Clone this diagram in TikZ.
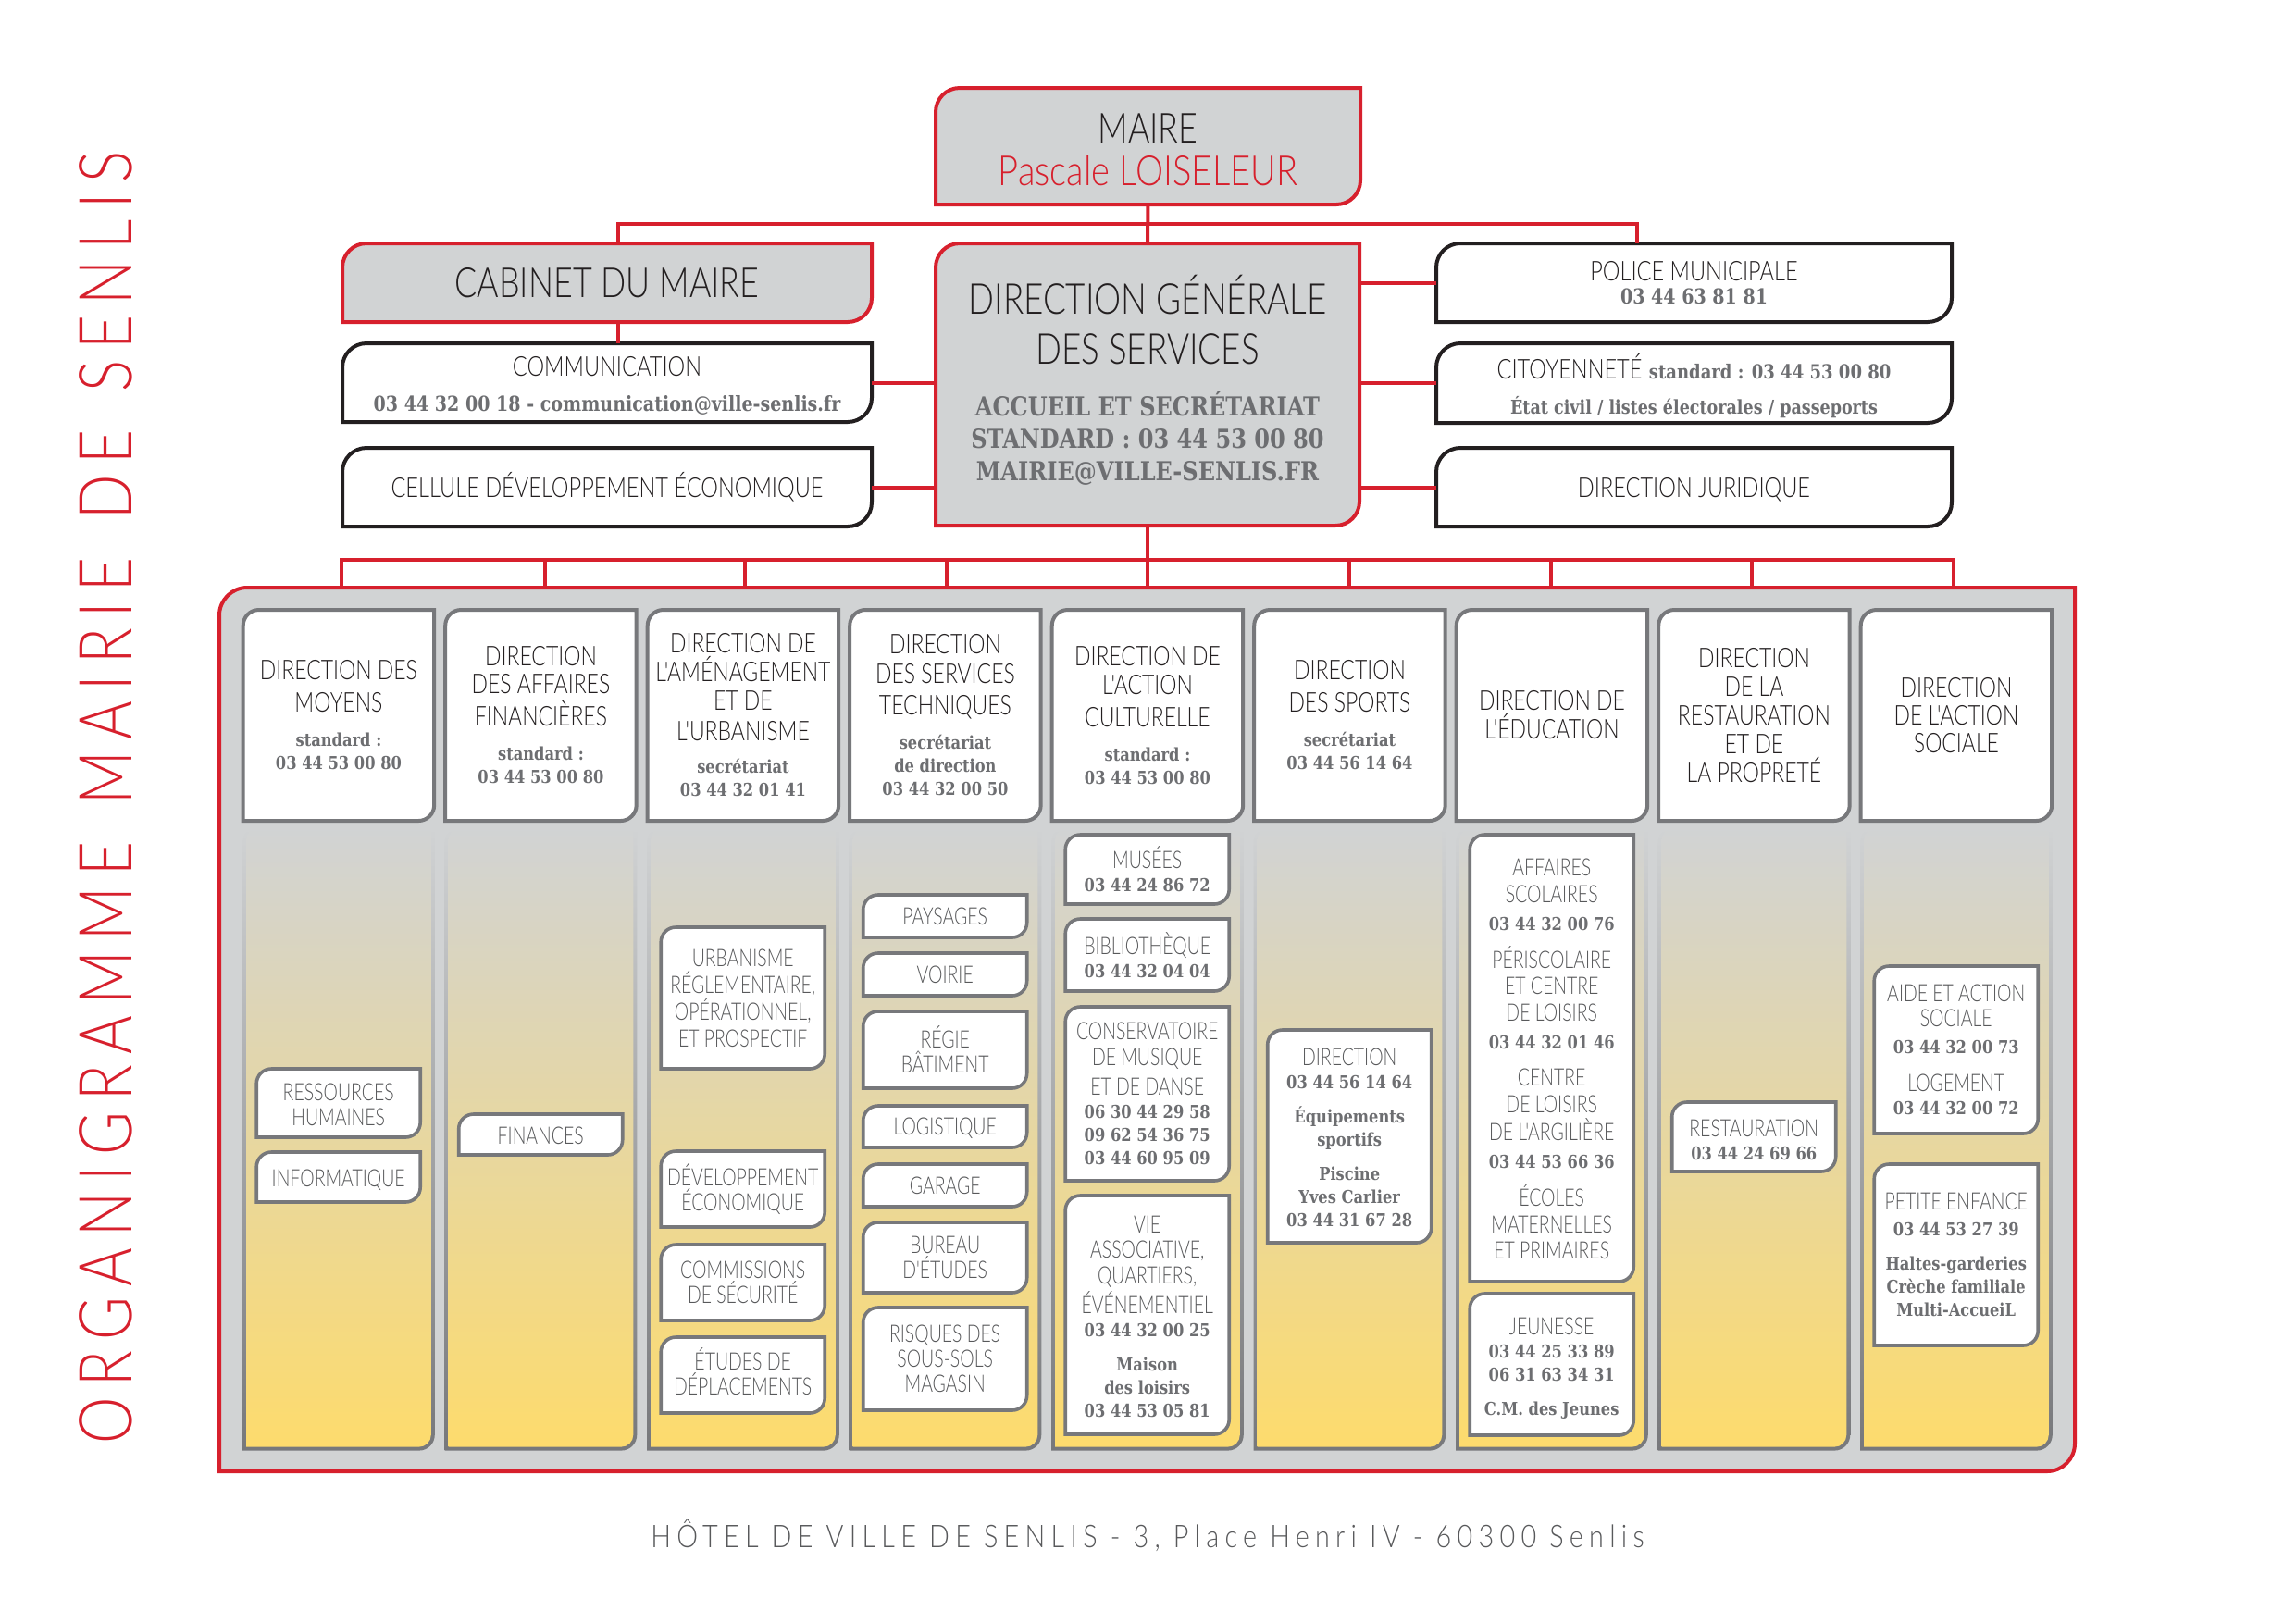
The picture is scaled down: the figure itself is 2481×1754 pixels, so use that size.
\documentclass[tikz,border=0pt]{standalone}
\usepackage{fontspec}
\newfontfamily\thin{Lato Light}[FakeStretch=0.8]
\newfontfamily\thinb{Lato Light}[FakeStretch=0.78]
\newfontfamily\thinc{Lato Light}[FakeStretch=0.75]
\newfontfamily\thinp{Lato Light}[FakeStretch=0.85]
\newfontfamily\titref{Lato Light}[FakeStretch=0.8,LetterSpace=14.8,WordSpace=1.4]
\newfontfamily\piedf{Lato Light}[FakeStretch=0.85,LetterSpace=18.5]
\newfontfamily\slab{DejaVu Serif Bold}[FakeStretch=0.85]
\definecolor{rouge}{HTML}{D7202D}
\definecolor{noir}{HTML}{231F20}
\definecolor{gris}{HTML}{D1D3D4}
\definecolor{grisb}{HTML}{77787B}
\definecolor{grist}{HTML}{6D6E71}
\definecolor{grisl}{HTML}{58595B}
\definecolor{jaune}{HTML}{FDDB6D}
\newdimen\px \px=0.3394pt
\newdimen\cxa \newdimen\cxb \newdimen\cya \newdimen\cyb \newdimen\crr
\makeatletter
\pgfdeclareshape{coinbox}{
  \inheritsavedanchors[from=rectangle]
  \inheritanchorborder[from=rectangle]
  \inheritanchor[from=rectangle]{center}
  \inheritanchor[from=rectangle]{mid}
  \inheritanchor[from=rectangle]{base}
  \inheritanchor[from=rectangle]{north}
  \inheritanchor[from=rectangle]{south}
  \inheritanchor[from=rectangle]{east}
  \inheritanchor[from=rectangle]{west}
  \inheritanchor[from=rectangle]{north east}
  \inheritanchor[from=rectangle]{north west}
  \inheritanchor[from=rectangle]{south east}
  \inheritanchor[from=rectangle]{south west}
  \backgroundpath{
    \southwest \cxa=\pgf@x \cya=\pgf@y
    \northeast \cxb=\pgf@x \cyb=\pgf@y
    \crr=\coinr\px
    \pgfpathmoveto{\pgfqpoint{\cxa}{\cya}}
    \pgfpathlineto{\pgfqpoint{\cxa}{\dimexpr\cyb-\crr\relax}}
    \pgfpatharc{180}{90}{\crr}
    \pgfpathlineto{\pgfqpoint{\cxb}{\cyb}}
    \pgfpathlineto{\pgfqpoint{\cxb}{\dimexpr\cya+\crr\relax}}
    \pgfpatharc{0}{-90}{\crr}
    \pgfpathclose
  }
}
\makeatother
\def\coinr{16}
\newcommand\lhset[1]{\fontsize{6}{6}\selectfont\baselineskip=#1\px\relax\lineskiplimit=-100pt\relax}
\newcommand\haut[1]{\rule{0pt}{#1\px}}
\newcommand\basse[1]{\rule[-#1\px]{0pt}{0pt}}
\newcommand\tA[1]{{\thin\fontsize{15.2}{14}\selectfont #1}}
\newcommand\tAg[1]{{\thin\fontsize{15.6}{14}\selectfont #1}}
\newcommand\tAp[1]{{\thinp\fontsize{15.2}{14}\selectfont #1}}
\newcommand\tB[1]{{\thinb\fontsize{10}{10}\selectfont #1}}
\newcommand\tC[1]{{\thinc\color{grisl}\fontsize{8.8}{9}\selectfont #1}}
\newcommand\tD[1]{{\thin\fontsize{10}{10}\selectfont #1}}
\newcommand\nA[1]{{\slab\color{grist}\fontsize{6.5}{7}\selectfont #1}}
\newcommand\nB[1]{{\slab\color{grist}\fontsize{9.6}{10}\selectfont #1}}
\newcommand\nC[1]{{\slab\color{grist}\fontsize{7}{7}\selectfont #1}}
\newcommand\nD[1]{{\slab\color{grist}\fontsize{7.6}{7}\selectfont #1}}
\newcommand\nE[1]{{\slab\color{grist}\fontsize{7.2}{7}\selectfont #1}}
\tikzset{
  x=0.3394pt,y=-0.3394pt,
  lh/.style={font=\lhset{#1}},
  rc/.code={\def\coinr{#1}},
  basebox/.style={shape=coinbox,inner sep=0pt,outer sep=0pt,align=center,line width=4\px,text=noir,lh=25},
  rougebox/.style={basebox,draw=rouge,fill=gris,rc=26},
  noirbox/.style={basebox,draw=noir,fill=white,rc=26},
  tetebox/.style={basebox,draw=grisb,fill=white,rc=17},
  sousbox/.style={basebox,draw=grisb,fill=white,rc=16,line width=3.6\px},
  cadre/.style={basebox,draw=rouge,fill=gris,rc=30},
  liaison/.style={draw=rouge,line width=4\px},
}
\newcommand\boite[7][]{%
  \pgfmathsetmacro\bcx{(#3+#5)/2}\pgfmathsetmacro\bcy{(#4+#6)/2}%
  \pgfmathsetmacro\bw{#5-#3}\pgfmathsetmacro\bh{#6-#4}%
  \node[minimum width=\bw\px,minimum height=\bh\px,#1] (#2) at (\bcx,\bcy) {#7};}
\newcommand\tete[3]{%
  \pgfmathsetmacro\ca{262.7+218.5*(#2-1)}\pgfmathsetmacro\cb{\ca+206.5}%
  \boite[tetebox]{#1}{\ca}{659}{\cb}{887}{#3}}
\newcommand\fond[1]{%
  \pgfmathsetmacro\ca{262.7+218.5*(#1-1)}\pgfmathsetmacro\cb{\ca+206.5}%
  \pgfmathsetmacro\cc{\ca+4}\pgfmathsetmacro\cd{\cb-4}%
  \boite[shape=coinbox,rc=17,inner sep=0pt,top color=gris,bottom color=grisb]{fondext#1}{\ca}{895}{\cb}{1567}{}
  \boite[shape=coinbox,rc=13,inner sep=0pt,top color=gris,bottom color=jaune]{fondint#1}{\cc}{895}{\cd}{1563}{}}
\newcommand\sous[6][]{%
  \pgfmathsetmacro\ca{277.2+218.5*(#3-1)}\pgfmathsetmacro\cb{\ca+177}%
  \boite[sousbox,#1]{#2}{\ca}{#4}{\cb}{#5}{#6}}
\begin{document}
\begin{tikzpicture}
\useasboundingbox (0,0) rectangle (2481,1754);
% titre et pied
\node[rotate=90,text=rouge,inner sep=0pt] (titre) at (114,862) {\titref\fontsize{27}{27}\selectfont ORGANIGRAMME MAIRIE DE SENLIS};
\node[text=grisl,inner sep=0pt] (pied) at (1240,1659) {\piedf\fontsize{11.5}{12}\selectfont HÔTEL DE VILLE DE SENLIS - 3, Place Henri IV - 60300 Senlis};
% cadre
\boite[cadre]{cadre}{237}{635}{2242}{1590}{}
\foreach \i in {1,...,9}{\fond{\i}}
% tetes de colonnes
\tete{t1}{1}{\tB{DIRECTION DES}\\[10\px]\tB{MOYENS}\\[12\px]\nA{standard :}\\\nA{03 44 53 00 80}}
\tete{t2}{2}{\tB{DIRECTION}\\[5\px]\tB{DES AFFAIRES}\\[10\px]\tB{FINANCIÈRES}\\[12\px]\nA{standard :}\\\nA{03 44 53 00 80}}
\tete{t3}{3}{\tB{DIRECTION DE}\\[6\px]\tB{L'AMÉNAGEMENT}\\[6\px]\tB{ET DE}\\[8\px]\tB{L'URBANISME}\\[10\px]\nA{secrétariat}\\\nA{03 44 32 01 41}}
\tete{t4}{4}{\tB{DIRECTION}\\[7\px]\tB{DES SERVICES}\\[9\px]\tB{TECHNIQUES}\\[12\px]\nA{secrétariat}\\\nA{de direction}\\\nA{03 44 32 00 50}}
\tete{t5}{5}{\tB{DIRECTION DE}\\[6\px]\tB{L'ACTION}\\[10\px]\tB{CULTURELLE}\\[12\px]\nA{standard :}\\\nA{03 44 53 00 80}}
\tete{t6}{6}{\tB{DIRECTION}\\[10\px]\tB{DES SPORTS}\\[12\px]\nA{secrétariat}\\\nA{03 44 56 14 64}}
\tete{t7}{7}{\tB{DIRECTION DE}\\[6\px]\tB{L'ÉDUCATION}}
\tete{t8}{8}{\tB{DIRECTION}\\[6\px]\tB{DE LA}\\[6\px]\tB{RESTAURATION}\\[6\px]\tB{ET DE}\\[6\px]\tB{LA PROPRETÉ}}
\tete{t9}{9}{\tB{DIRECTION}\\[5\px]\tB{DE L'ACTION}\\[5\px]\tB{SOCIALE}}
% sous-boites
\sous{c1a}{1}{1155}{1229}{\haut{22}\tC{RESSOURCES}\\[2\px]\tC{HUMAINES}}
\sous{c1b}{1}{1245}{1299}{\haut{24}\tC{INFORMATIQUE}}
\sous{c2a}{2}{1204}{1248}{\haut{22}\tC{FINANCES}}
\sous{c3a}{3}{1002}{1155}{\tC{URBANISME}\\[4\px]\tC{RÉGLEMENTAIRE,}\\[4\px]\tC{OPÉRATIONNEL,}\\[4\px]\tC{ET PROSPECTIF}}
\sous{c3b}{3}{1244}{1326}{\tC{DÉVELOPPEMENT}\\[2\px]\tC{ÉCONOMIQUE}}
\sous{c3c}{3}{1345}{1427}{\tC{COMMISSIONS}\\[2\px]\tC{DE SÉCURITÉ}}
\sous{c3d}{3}{1445}{1527}{\tC{ÉTUDES DE}\\[2\px]\tC{DÉPLACEMENTS}\basse{8}}
\sous{c4a}{4}{967}{1013}{\tC{PAYSAGES}}
\sous{c4b}{4}{1030}{1076}{\tC{VOIRIE}}
\sous{c4c}{4}{1093}{1176}{\tC{RÉGIE}\\[2\px]\tC{BÂTIMENT}}
\sous{c4d}{4}{1195}{1240}{\haut{22}\tC{LOGISTIQUE}}
\sous{c4e}{4}{1258}{1304}{\tC{GARAGE}}
\sous{c4f}{4}{1321}{1397}{\tC{BUREAU}\\[2\px]\tC{D'ÉTUDES}}
\sous{c4g}{4}{1413}{1524}{\tC{RISQUES DES}\\[2\px]\tC{SOUS-SOLS}\\[2\px]\tC{MAGASIN}}
\sous{c5a}{5}{902}{977}{\tC{MUSÉES}\\\nA{03 44 24 86 72}}
\sous{c5b}{5}{993}{1071}{\tC{BIBLIOTHÈQUE}\\\nA{03 44 32 04 04}}
\sous{c5c}{5}{1088}{1276}{\tC{CONSERVATOIRE}\\[2.5\px]\tC{DE MUSIQUE}\\[7\px]\tC{ET DE DANSE}\\\nA{06 30 44 29 58}\\\nA{09 62 54 36 75}\\\nA{03 44 60 95 09}}
\sous{c5d}{5}{1292}{1550}{\haut{22}\tC{VIE}\\[2.5\px]\tC{ASSOCIATIVE,}\\[2.5\px]\tC{QUARTIERS,}\\[7\px]\tC{ÉVÉNEMENTIEL}\\\nA{03 44 32 00 25}\\[12\px]\nA{Maison}\\\nA{des loisirs}\\\nA{03 44 53 05 81}}
\sous{c6a}{6}{1113}{1343}{\haut{22}\tC{DIRECTION}\\\nA{03 44 56 14 64}\\[12\px]\nA{Équipements}\\\nA{sportifs}\\[12\px]\nA{Piscine}\\\nA{Yves Carlier}\\\nA{03 44 31 67 28}}
\sous{c7a}{7}{902}{1385}{\haut{21}\tC{AFFAIRES}\\[3.5\px]\tC{SCOLAIRES}\\[5\px]\nA{03 44 32 00 76}\\[16\px]\tC{PÉRISCOLAIRE}\\[3.5\px]\tC{ET CENTRE}\\[4\px]\tC{DE LOISIRS}\\[5\px]\nA{03 44 32 01 46}\\[15\px]\tC{CENTRE}\\[3.5\px]\tC{DE LOISIRS}\\[5\px]\tC{DE L'ARGILIÈRE}\\[5\px]\nA{03 44 53 66 36}\\[16\px]\tC{ÉCOLES}\\[4\px]\tC{MATERNELLES}\\[3.5\px]\tC{ET PRIMAIRES}}
\sous{c7b}{7}{1398}{1551}{\haut{26}\tC{JEUNESSE}\\\nA{03 44 25 33 89}\\\nA{06 31 63 34 31}\\[12\px]\nA{C.M. des Jeunes}}
\sous{c8a}{8}{1191}{1266}{\haut{26}\tC{RESTAURATION}\\\nA{03 44 24 69 66}}
\sous{c9a}{9}{1044}{1225}{\tC{AIDE ET ACTION}\\[2\px]\tC{SOCIALE}\\[4\px]\nA{03 44 32 00 73}\\[16\px]\tC{LOGEMENT}\\\nA{03 44 32 00 72}}
\sous{c9b}{9}{1258}{1454}{\tC{PETITE ENFANCE}\\[3\px]\nA{03 44 53 27 39}\\[12\px]\nA{Haltes-garderies}\\\nA{Crèche familiale}\\\nA{Multi-AccueiL}}
% haut
\boite[rougebox]{maire}{1011}{95}{1470}{221}{\haut{39}\tA{MAIRE}\\[21\px]{\color{rouge}\tAp{Pascale LOISELEUR}}}
\boite[rougebox]{cabinet}{370}{263}{942}{348}{\tA{CABINET DU MAIRE}}
\boite[rougebox,lh=35]{dg}{1011}{263}{1469}{568}{\tAg{DIRECTION GÉNÉRALE}\\[19\px]\tAg{DES SERVICES}\\[21\px]\nB{ACCUEIL ET SECRÉTARIAT}\\\nB{STANDARD : 03 44 53 00 80}\\\nB{MAIRIE@VILLE-SENLIS.FR}\basse{14}}
\boite[noirbox,lh=38]{comm}{370}{371}{942}{456}{\haut{28}\tD{COMMUNICATION}\\\nD{03 44 32 00 18 - communication@ville-senlis.fr}}
\boite[noirbox]{cellule}{370}{484}{942}{569}{\tD{CELLULE DÉVELOPPEMENT ÉCONOMIQUE}}
\boite[noirbox]{police}{1552}{263}{2109}{348}{\tD{POLICE MUNICIPALE}\\\nD{03 44 63 81 81}}
\boite[noirbox,lh=38]{citoyen}{1552}{371}{2109}{457}{\haut{34}\tD{CITOYENNETÉ} \nE{standard : 03 44 53 00 80}\\\nC{État civil / listes électorales / passeports}}
\boite[noirbox]{juridique}{1552}{484}{2109}{569}{\haut{26}\tD{DIRECTION JURIDIQUE}}
% liaisons
\coordinate (bh) at (1240,241.5);
\coordinate (bg) at (668.4,241.5);
\coordinate (bd) at (1769,241.5);
\coordinate (bas) at (1240,605);
\draw[liaison] (maire.south) -- (dg.north);
\draw[liaison] (cabinet.north -| bg) -- (bg) -- (bd) -- (police.north -| bd);
\draw[liaison] (cabinet.south -| bg) -- (comm.north -| bg);
\draw[liaison] (comm.east) -- (comm.east -| dg.west);
\draw[liaison] (cellule.east) -- (cellule.east -| dg.west);
\draw[liaison] (police.west) -- (police.west -| dg.east);
\draw[liaison] (citoyen.west) -- (citoyen.west -| dg.east);
\draw[liaison] (juridique.west) -- (juridique.west -| dg.east);
\draw[liaison] (dg.south) -- (bas);
\coordinate (b1) at (368.7,605);
\coordinate (b2) at (588.6,605);
\coordinate (b3) at (805,605);
\coordinate (b4) at (1022.5,605);
\coordinate (b5) at (1240,605);
\coordinate (b6) at (1458,605);
\coordinate (b7) at (1676,605);
\coordinate (b8) at (1893,605);
\coordinate (b9) at (2111,605);
\draw[liaison,line join=miter] (cadre.north -| b1) -- (b1) -- (b9) -- (cadre.north -| b9);
\foreach \i in {2,...,8}{\draw[liaison] (b\i) -- (cadre.north -| b\i);}
\end{tikzpicture}
\end{document}
